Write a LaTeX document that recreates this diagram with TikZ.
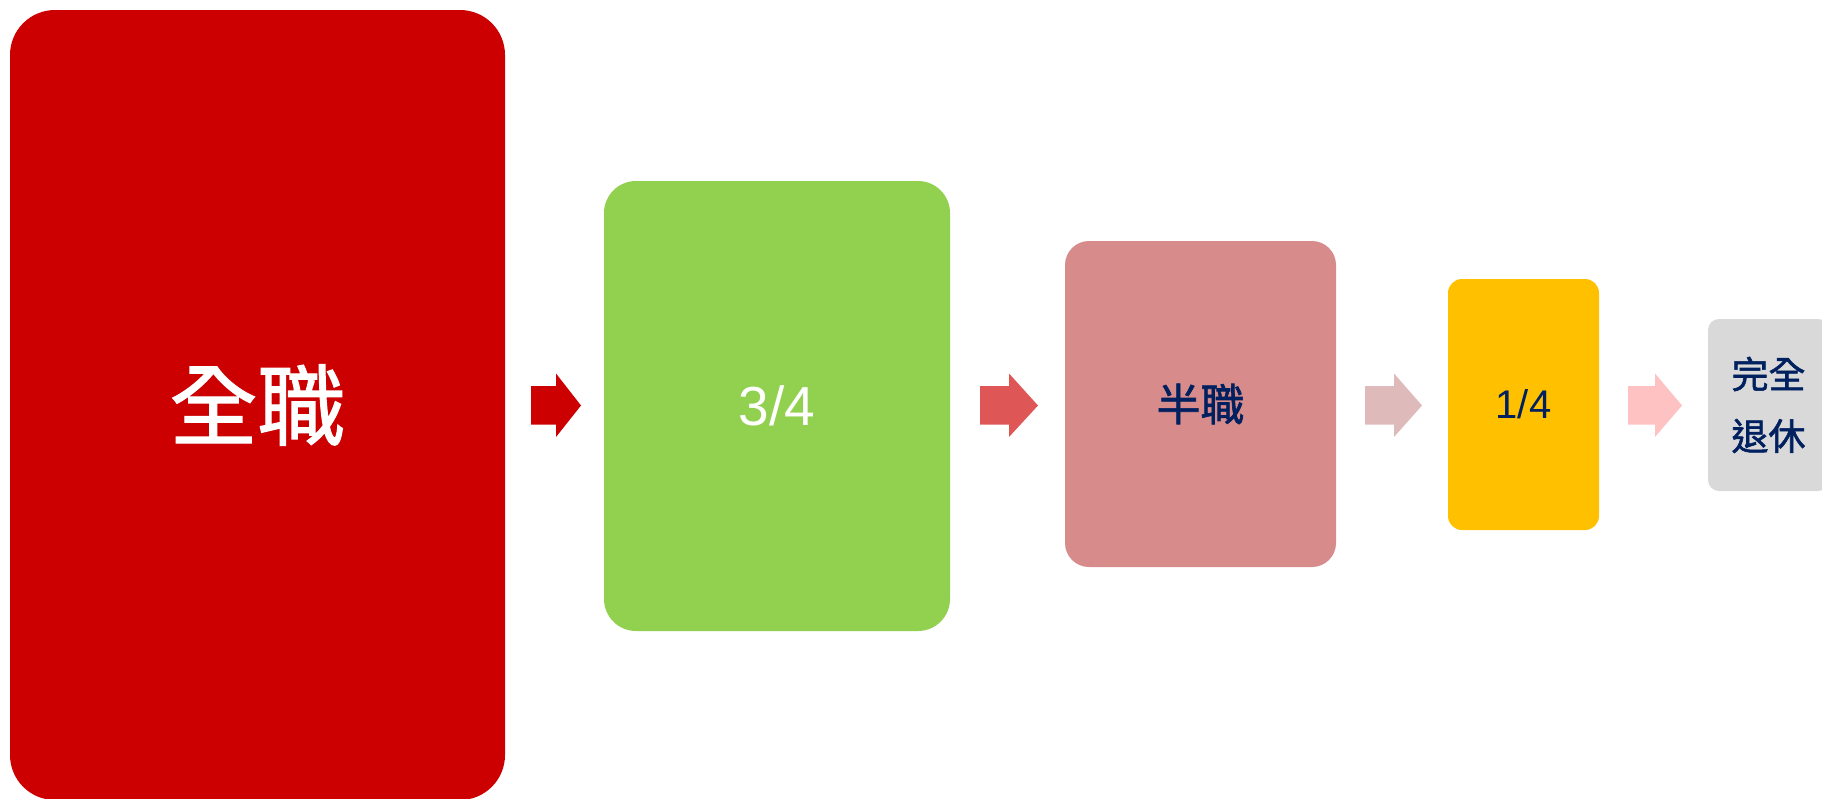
\documentclass[tikz,border=0pt]{standalone}
\usepackage{fontspec}
\setmainfont{Liberation Sans}
\newfontfamily\cjk{Noto Sans CJK TC}[FakeBold=1.5]
\definecolor{cRed}{HTML}{CC0000}
\definecolor{cGreen}{HTML}{92D050}
\definecolor{cPink}{HTML}{D88B8B}
\definecolor{cYellow}{HTML}{FFC000}
\definecolor{cGray}{HTML}{D9D9D9}
\definecolor{cNavy}{HTML}{002060}
\definecolor{aOne}{HTML}{CC0000}
\definecolor{aTwo}{HTML}{DF5656}
\definecolor{aThree}{HTML}{DEBBBA}
\definecolor{aFour}{HTML}{FFC2C2}
\newcommand\blockarrow[4]{\fill[#1] (#2,386) -- (#3,386) -- (#3,373.5) -- (#4,405.5) -- (#3,437) -- (#3,424.5) -- (#2,424.5) -- cycle;}
\begin{document}
\begin{tikzpicture}[x=1pt,y=-1pt,
  stagebox/.style={rounded corners=#1, inner sep=0pt, draw=none, align=center}]
\useasboundingbox (0,0) rectangle (1822,798);
\clip (0,0) rectangle (1822,798);
\node[stagebox=45, fill=cRed, minimum width=495, minimum height=790,
  font=\cjk\fontsize{88}{100}\selectfont, text=white] (full) at (257.5,405) {全職};
\node[stagebox=32, fill=cGreen, minimum width=346, minimum height=450,
  font=\fontsize{55}{66}\selectfont, text=white] (threeq) at (777,406) {3/4};
\node[stagebox=24, fill=cPink, minimum width=271, minimum height=326,
  font=\cjk\fontsize{44}{52}\selectfont, text=cNavy] (half) at (1200.5,404) {半職};
\node[stagebox=14, fill=cYellow, minimum width=151, minimum height=251,
  font=\fontsize{40}{48}\selectfont, text=cNavy] (oneq) at (1523.5,404.5) {1/4};
\node[stagebox=11, fill=cGray, minimum width=121, minimum height=172] (retire) at (1768.5,405) {};
\node[inner sep=0pt, font=\cjk\fontsize{37}{44}\selectfont, text=cNavy] (retireA) at (1768.5,374) {完全};
\node[inner sep=0pt, font=\cjk\fontsize{37}{44}\selectfont, text=cNavy] (retireB) at (1768.5,436) {退休};
\blockarrow{aOne}{531}{556}{581}
\blockarrow{aTwo}{980}{1009}{1038}
\blockarrow{aThree}{1365}{1394}{1422}
\blockarrow{aFour}{1628}{1655}{1682}
\end{tikzpicture}
\end{document}
